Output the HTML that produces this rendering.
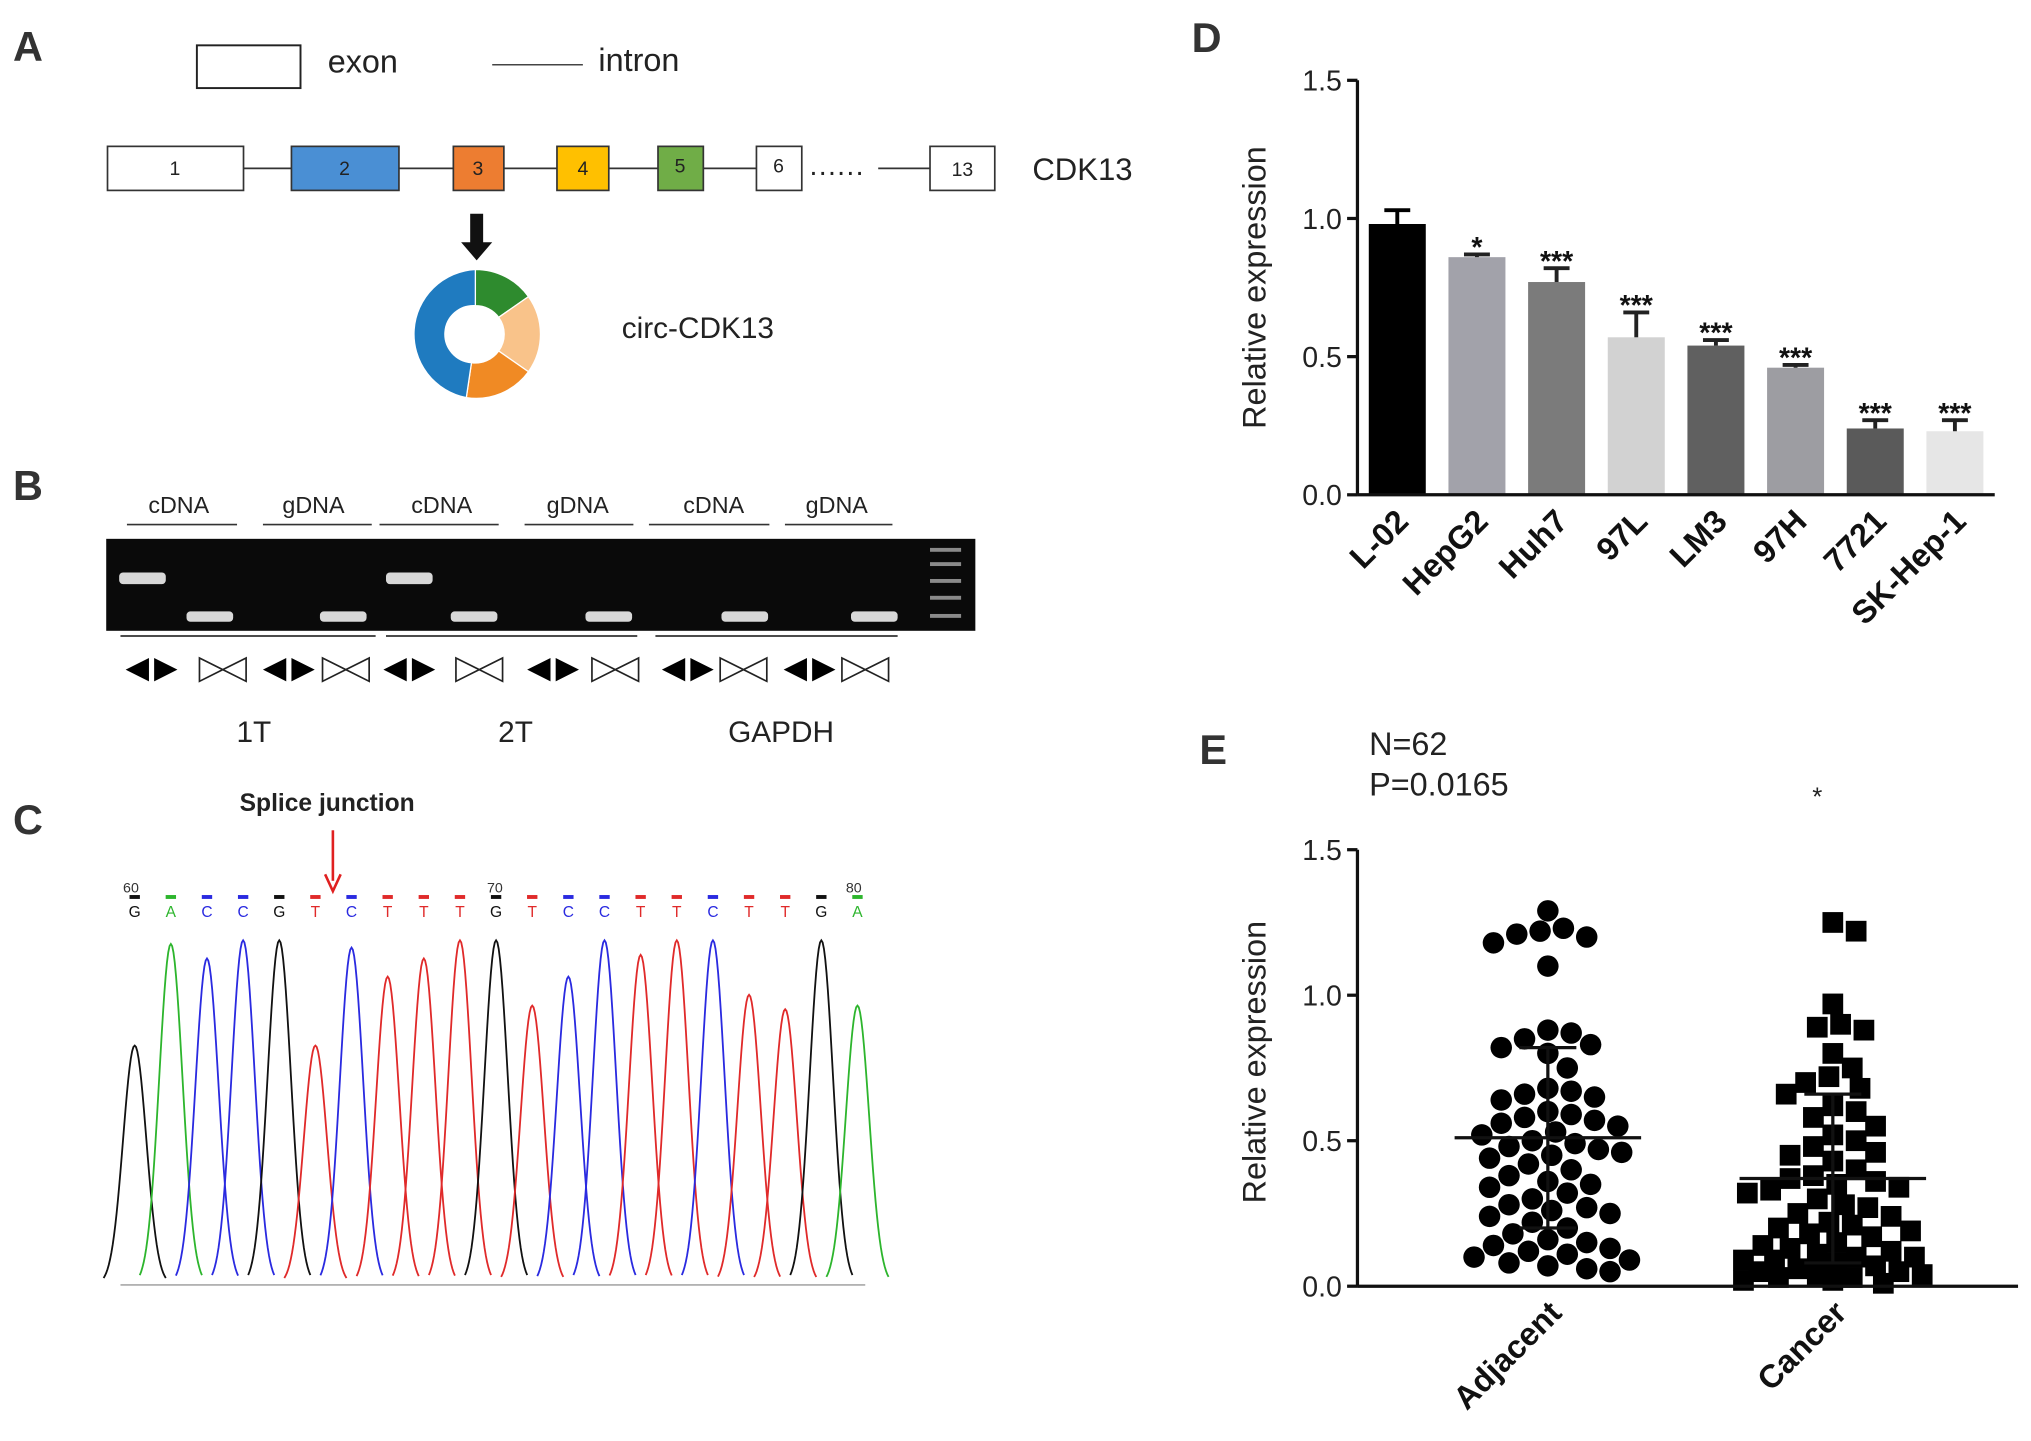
<!DOCTYPE html>
<html><head><meta charset="utf-8"><style>html,body{margin:0;padding:0;background:#fff}svg{display:block;font-family:"Liberation Sans",Arial,sans-serif}</style></head>
<body>
<svg id="fig" width="2031" height="1441" viewBox="0 0 1568 1112.5" xmlns="http://www.w3.org/2000/svg">
<rect width="1568" height="1113" fill="#fff"/>
<!-- Panel A -->
<g>
<text x="10" y="47" font-size="32" font-weight="bold" fill="#333">A</text>
<rect x="152" y="35" width="80" height="33" fill="#fff" stroke="#222" stroke-width="1.5"/>
<text x="253" y="56" font-size="25" fill="#222">exon</text>
<line x1="380" y1="50" x2="450" y2="50" stroke="#444" stroke-width="1.2"/>
<text x="462" y="55" font-size="25" fill="#222">intron</text>
<g stroke="#333" stroke-width="1.3">
<line x1="188" y1="130" x2="584" y2="130"/><line x1="678" y1="130" x2="718" y2="130"/>
<rect x="83" y="113" width="105" height="34" fill="#fff"/>
<rect x="225" y="113" width="83" height="34" fill="#4a8fd4"/>
<rect x="350" y="113" width="39" height="34" fill="#ed7d31"/>
<rect x="430" y="113" width="40" height="34" fill="#ffc000"/>
<rect x="508" y="113" width="35" height="34" fill="#70ad47"/>
<rect x="584" y="113" width="35" height="34" fill="#fff"/>
<rect x="718" y="113" width="50" height="34" fill="#fff"/>
</g>
<g font-size="15" fill="#222" text-anchor="middle">
<text x="135" y="135">1</text><text x="266" y="135">2</text><text x="369" y="135">3</text><text x="450" y="135">4</text><text x="525" y="133">5</text><text x="601" y="133">6</text><text x="743" y="136">13</text></g>
<text x="625" y="135" font-size="22" fill="#222" letter-spacing="1">......</text>
<text x="797" y="139" font-size="24" fill="#222">CDK13</text>
<path d="M363 165 h10 v22 h7 l-12 14 l-12 -14 h7 z" fill="#111"/>
<g stroke="#fff" stroke-width="1">
<path d="M367 208 A50 50 0 0 1 408 229 L385 245 A22 22 0 0 0 367 236 Z" fill="#2e8b2e"/>
<path d="M408 229 A50 50 0 0 1 408 287 L385 271 A22 22 0 0 0 385 245 Z" fill="#f9c38a"/>
<path d="M408 287 A50 50 0 0 1 360 307 L364 280 A22 22 0 0 0 385 271 Z" fill="#f08a24"/>
<path d="M360 307 A50 50 0 0 1 367 208 L367 236 A22 22 0 0 0 364 280 Z" fill="#1f7bc0"/>
</g>
<text x="480" y="261" font-size="23" fill="#222">circ-CDK13</text>
</g>
<!-- Panel B -->
<g>
<text x="10" y="386" font-size="32" font-weight="bold" fill="#333">B</text>
<g font-size="18" fill="#222" text-anchor="middle">
<text x="138" y="396">cDNA</text><text x="242" y="396">gDNA</text><text x="341" y="396">cDNA</text><text x="446" y="396">gDNA</text><text x="551" y="396">cDNA</text><text x="646" y="396">gDNA</text></g>
<g stroke="#333" stroke-width="1.3">
<line x1="98" y1="405" x2="183" y2="405"/><line x1="203" y1="405" x2="287" y2="405"/><line x1="293" y1="405" x2="385" y2="405"/><line x1="405" y1="405" x2="489" y2="405"/><line x1="501" y1="405" x2="594" y2="405"/><line x1="606" y1="405" x2="689" y2="405"/>
<line x1="93" y1="491" x2="290" y2="491"/><line x1="298" y1="491" x2="492" y2="491"/><line x1="506" y1="491" x2="693" y2="491"/></g>
<rect x="82" y="416" width="671" height="71" fill="#0a0a0a"/>
<g fill="#d8d8d8">
<rect x="92" y="442" width="36" height="9" rx="3"/><rect x="298" y="442" width="36" height="9" rx="3"/>
<rect x="144" y="472" width="36" height="8" rx="3"/><rect x="247" y="472" width="36" height="8" rx="3"/><rect x="348" y="472" width="36" height="8" rx="3"/><rect x="452" y="472" width="36" height="8" rx="3"/><rect x="557" y="472" width="36" height="8" rx="3"/><rect x="657" y="472" width="36" height="8" rx="3"/>
<g fill="#8a8a8a"><rect x="718" y="423" width="24" height="3"/><rect x="718" y="434" width="24" height="3"/><rect x="718" y="447" width="24" height="3"/><rect x="718" y="460" width="24" height="3"/><rect x="718" y="474" width="24" height="3"/></g></g>
<g id="primers"></g>
<g font-size="23" fill="#222" text-anchor="middle"><text x="196" y="573">1T</text><text x="398" y="573">2T</text><text x="603" y="573">GAPDH</text></g>
</g>
<!-- Panel C -->
<g>
<text x="10" y="644" font-size="32" font-weight="bold" fill="#333">C</text>
<text x="185" y="626" font-size="19" font-weight="bold" fill="#222">Splice junction</text>
<line x1="257" y1="641" x2="257" y2="680" stroke="#e02020" stroke-width="2"/>
<path d="M251 675 L257 688 L263 675" fill="none" stroke="#e02020" stroke-width="2"/>
<text x="95" y="689" font-size="11" fill="#333">60</text><text x="376" y="689" font-size="11" fill="#333">70</text><text x="653" y="689" font-size="11" fill="#333">80</text>
<g id="chroma"></g>
</g>
<!-- Panel D -->
<g>
<text x="920" y="40" font-size="32" font-weight="bold" fill="#333">D</text>
<text transform="translate(977,222) rotate(-90)" font-size="25" fill="#222" text-anchor="middle">Relative expression</text>
<g id="chartD"></g>
</g>
<!-- Panel E -->
<g>
<text x="926" y="590" font-size="32" font-weight="bold" fill="#333">E</text>
<text x="1057" y="583" font-size="25" fill="#222">N=62</text>
<text x="1057" y="614" font-size="25" fill="#222">P=0.0165</text>
<text x="1403" y="622" font-size="20" fill="#222" text-anchor="middle">*</text>
<text transform="translate(977,820) rotate(-90)" font-size="25" fill="#222" text-anchor="middle">Relative expression</text>
<g id="chartE"></g>
</g>
</svg>
<script>
const NS='http://www.w3.org/2000/svg';
function mk(p,t,a,txt){const e=document.createElementNS(NS,t);for(const k in a)e.setAttribute(k,a[k]);if(txt!==undefined)e.textContent=txt;p.appendChild(e);return e;}
// ---- Panel D data
const dCategories=['L-02','HepG2','Huh7','97L','LM3','97H','7721','SK-Hep-1'];
const dValues=[0.98,0.86,0.77,0.57,0.54,0.46,0.24,0.23];
const dErrors=[0.05,0.01,0.05,0.09,0.02,0.01,0.03,0.04];
const dStars=['','*','***','***','***','***','***','***'];
const dTicks=[0,0.5,1.0,1.5];
const dColors=['#000','#a2a2aa','#7b7b7b','#d2d2d2','#606060','#9d9da2','#5a5a5a','#e6e6e6'];
// ---- Panel E data
const eGroups=['Adjacent','Cancer'];
const eAdjacent=[1.29,1.23,1.22,1.20,1.18,1.21,1.10,0.88,0.87,0.85,0.83,0.82,0.80,0.75,0.68,0.67,0.66,0.65,0.64,0.60,0.59,0.58,0.57,0.56,0.55,0.53,0.52,0.50,0.49,0.48,0.47,0.46,0.45,0.44,0.42,0.40,0.38,0.36,0.35,0.34,0.32,0.30,0.28,0.27,0.26,0.25,0.24,0.22,0.20,0.18,0.16,0.15,0.14,0.13,0.12,0.11,0.10,0.09,0.08,0.07,0.06,0.05];
const eCancer=[1.25,1.22,0.97,0.90,0.89,0.88,0.80,0.75,0.72,0.70,0.68,0.66,0.62,0.60,0.58,0.55,0.52,0.50,0.48,0.46,0.45,0.43,0.40,0.38,0.37,0.36,0.35,0.34,0.33,0.32,0.30,0.28,0.27,0.25,0.24,0.22,0.21,0.20,0.19,0.18,0.17,0.15,0.14,0.13,0.12,0.11,0.10,0.10,0.09,0.09,0.08,0.07,0.06,0.05,0.05,0.04,0.04,0.03,0.03,0.02,0.02,0.01];
const eMeans=[0.51,0.37];
const eSD=[0.31,0.29];
const eTicks=[0,0.5,1.0,1.5];
// ---- Panel C data
const cBases=['G','A','C','C','G','T','C','T','T','T','G','T','C','C','T','T','C','T','T','G','A'];
const cHeights=[0.66,0.94,0.90,0.95,0.95,0.66,0.93,0.85,0.90,0.95,0.95,0.77,0.85,0.95,0.91,0.95,0.95,0.80,0.76,0.95,0.77];

// Panel D chart
(function(){
 const g=document.getElementById('chartD');
 const x0=1048,x1=1540,yb=382,yt=62,maxV=1.5;
 const y=v=>yb-(v/maxV)*(yb-yt);
 const step=(x1-x0)/dCategories.length, bw=44;
 const xc=i=>x0+step*(i+0.5);
 dCategories.forEach((c,i)=>{
  const cx=xc(i),top=y(dValues[i]),et=y(dValues[i]+dErrors[i]);
  const b=mk(g,'rect',{x:cx-bw/2,y:top,width:bw,height:yb-top,fill:dColors[i]});
  
  
  const ec=i===0?'#000':'#222';
  mk(g,'line',{x1:cx,y1:top,x2:cx,y2:et,stroke:ec,'stroke-width':3});
  mk(g,'line',{x1:cx-10,y1:et,x2:cx+10,y2:et,stroke:ec,'stroke-width':3});
  if(dStars[i]){const s=mk(g,'text',{x:cx,y:et+2,'font-size':22,'font-weight':'bold','text-anchor':'middle',fill:'#111'},dStars[i]);
   
   }
  const l=mk(g,'text',{transform:`translate(${cx+10},${yb+22}) rotate(-45)`,'font-size':25,'font-weight':'bold','text-anchor':'end',fill:'#111'},c);
  
  
 });
 mk(g,'line',{x1:x0,y1:yt,x2:x0,y2:yb,stroke:'#111','stroke-width':2.5});
 mk(g,'line',{x1:x0,y1:yb,x2:x1,y2:yb,stroke:'#111','stroke-width':2.5});
 dTicks.forEach(t=>{mk(g,'line',{x1:x0-8,y1:y(t),x2:x0,y2:y(t),stroke:'#111','stroke-width':2.5});
  const tl=mk(g,'text',{x:x0-12,y:y(t)+8,'font-size':22,'text-anchor':'end',fill:'#222'},t.toFixed(1));
  
  });
})();

// Panel E chart
(function(){
 const g=document.getElementById('chartE');
 const x0=1048,x1=1558,yb=993,yt=656,maxV=1.5;
 const y=v=>yb-(v/maxV)*(yb-yt);
 const centers=[1195,1415];
 const series=[eAdjacent,eCancer];
 series.forEach((vals,gi)=>{
  const placed=[];const d=16.5;
  const sorted=vals.slice().sort((a,b)=>b-a);
  sorted.forEach(v=>{
   const py=y(v);let best=0,bestD=-1,found=null;
   const cands=[];for(let o=0;o<=70;o+=3){cands.push(o);if(o)cands.push(-o);}
   for(const o of cands){
    let md=1e9;for(const p of placed)md=Math.min(md,Math.hypot(p[0]-o,p[1]-py));
    if(md>=d){found=o;break;}
    if(md>bestD){bestD=md;best=o;}
   }
   const off=found!==null?found:best;
   placed.push([off,py]);
   const cx=centers[gi]+off;
   let m;
   if(gi===0)m=mk(g,'circle',{cx:cx,cy:py,r:8.3,fill:'#000'});
   else m=mk(g,'rect',{x:cx-8,y:py-8,width:16,height:16,fill:'#000'});
   
   
  });
  const c=centers[gi];
  mk(g,'line',{x1:c-72,y1:y(eMeans[gi]),x2:c+72,y2:y(eMeans[gi]),stroke:'#111','stroke-width':2.5});
  mk(g,'line',{x1:c,y1:y(eMeans[gi]+eSD[gi]),x2:c,y2:y(eMeans[gi]-eSD[gi]),stroke:'#111','stroke-width':2.5});
  mk(g,'line',{x1:c-22,y1:y(eMeans[gi]+eSD[gi]),x2:c+22,y2:y(eMeans[gi]+eSD[gi]),stroke:'#111','stroke-width':2.5});
  mk(g,'line',{x1:c-22,y1:y(eMeans[gi]-eSD[gi]),x2:c+22,y2:y(eMeans[gi]-eSD[gi]),stroke:'#111','stroke-width':2.5});
  const l=mk(g,'text',{transform:`translate(${c+12},${yb+22}) rotate(-45)`,'font-size':25,'font-weight':'bold','text-anchor':'end',fill:'#111'},eGroups[gi]);
  
  
 });
 mk(g,'line',{x1:x0,y1:yt,x2:x0,y2:yb,stroke:'#111','stroke-width':2.5});
 mk(g,'line',{x1:x0,y1:yb,x2:x1,y2:yb,stroke:'#111','stroke-width':2.5});
 eTicks.forEach(t=>{mk(g,'line',{x1:x0-8,y1:y(t),x2:x0,y2:y(t),stroke:'#111','stroke-width':2.5});
  const tl=mk(g,'text',{x:x0-12,y:y(t)+8,'font-size':22,'text-anchor':'end',fill:'#222'},t.toFixed(1));
  
  });
})();

// Panel C chromatogram
(function(){
 const g=document.getElementById('chroma');
 const col={G:'#111',A:'#2db52d',C:'#2a2ae0',T:'#e02a2a'};
 const xs=i=>104+i*27.9, base=992, full=280;
 mk(g,'line',{x1:93,y1:base,x2:668,y2:base,stroke:'#999','stroke-width':1});
 cBases.forEach((b,i)=>{
  const cx=xs(i),h=cHeights[i]*full;
  let dstr='';for(let t=-24;t<=24;t+=1){const yy=base-h*Math.exp(-(t*t)/(2*9*9));dstr+=(t===-24?'M':'L')+(cx+t)+' '+yy.toFixed(1)+' ';}
  const p=mk(g,'path',{d:dstr,fill:'none',stroke:col[b],'stroke-width':1.4});
  
  
  mk(g,'rect',{x:cx-4,y:691,width:8,height:3,fill:col[b]});
  const t=mk(g,'text',{x:cx,y:708,'font-size':12,'text-anchor':'middle',fill:col[b]},b);
  
  
 });
})();

// primer icons
(function(){
 const g=document.getElementById('primers');
 const filled=[117,223,316,427,531,625], open=[172,267,370,475,574,668];
 filled.forEach(x=>{mk(g,'path',{d:`M${x-2} 508 L${x-20} 517 L${x-2} 526Z M${x+2} 508 L${x+20} 517 L${x+2} 526Z`,fill:'#000'});});
 open.forEach(x=>{mk(g,'path',{d:`M${x-18} 508 L${x} 517 L${x-18} 526Z M${x+18} 508 L${x} 517 L${x+18} 526Z`,fill:'#fff',stroke:'#222','stroke-width':1.3});});
})();
</script>
</body></html>
